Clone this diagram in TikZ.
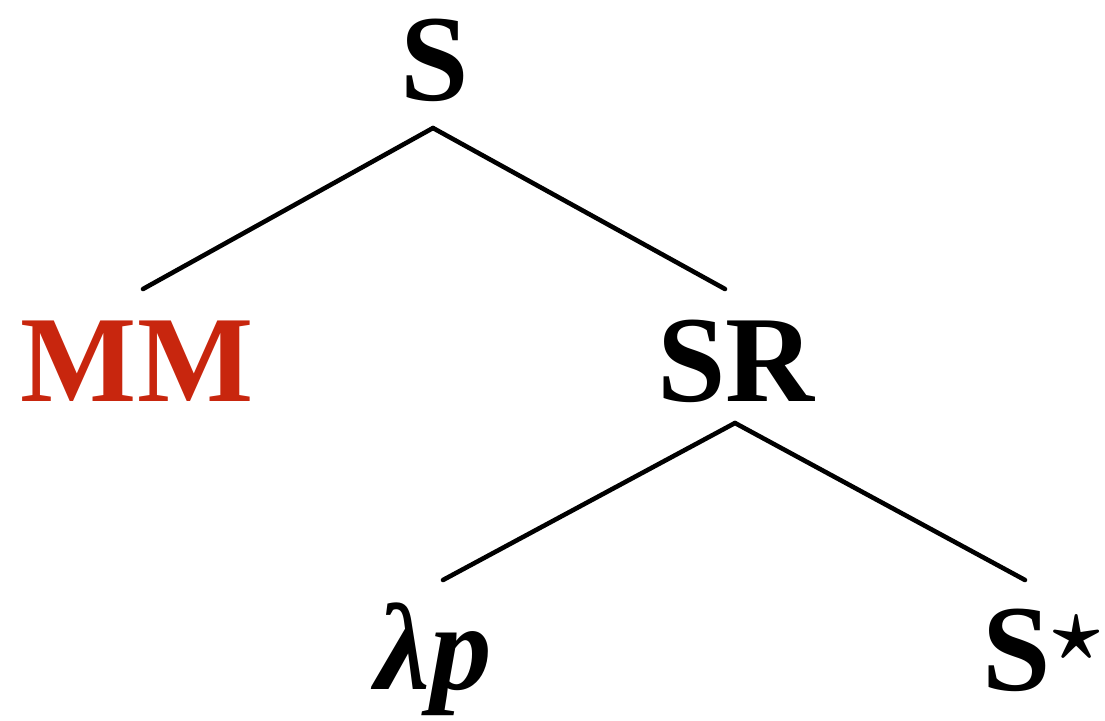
\documentclass[tikz,border=0pt]{standalone}
\usepackage{fontspec}
\setmainfont{Liberation Serif}
\definecolor{mmred}{RGB}{200,38,14}
\newcommand{\mystar}{{\boldmath$^{\star}$}}
\begin{document}
\begin{tikzpicture}[x=0.01cm,y=-0.01cm,
  lab/.style={inner sep=0pt,anchor=base,font=\fontsize{35}{40}\selectfont\bfseries},
  edge/.style={line width=1.3pt,line cap=round}]
\useasboundingbox (0,0) rectangle (1105,720);
\node[lab] (s) at (435,100) {S};
\node[lab,text=mmred] (mm) at (137,401) {MM};
\node[lab] (sr) at (736,401) {SR};
\node[lab] (lp) at (434,689) {\itshape λp};
\node[lab,anchor=base east] (sstar) at (1104,690) {S\mystar};
\coordinate (s-b) at (433,128);
\coordinate (mm-t) at (143,289);
\coordinate (sr-t) at (725,289);
\coordinate (sr-b) at (735,423);
\coordinate (lp-t) at (443,580);
\coordinate (ss-t) at (1025,580);
\draw[edge] (s-b) -- (mm-t);
\draw[edge] (s-b) -- (sr-t);
\draw[edge] (sr-b) -- (lp-t);
\draw[edge] (sr-b) -- (ss-t);
\end{tikzpicture}
\end{document}
